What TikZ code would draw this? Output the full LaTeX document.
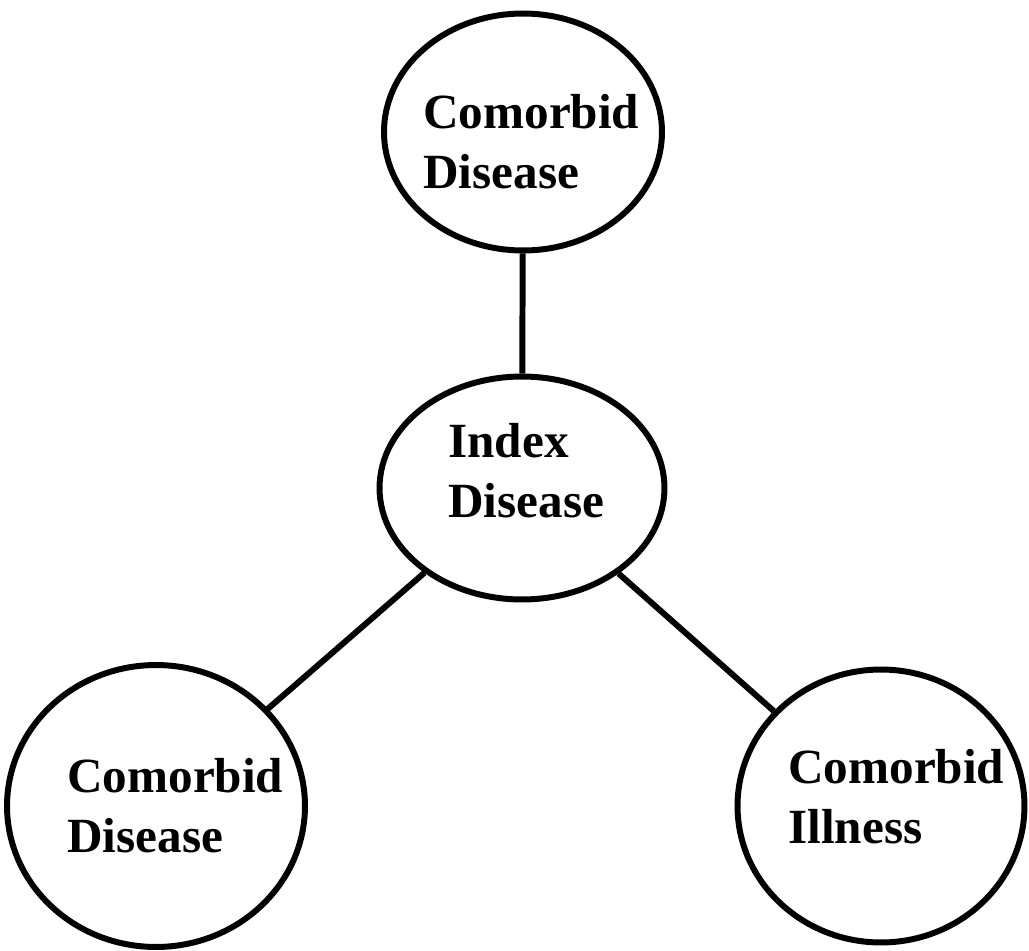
\documentclass[tikz,border=0pt]{standalone}
\usepackage{fontspec}
\setmainfont{Liberation Serif}
\usetikzlibrary{shapes.geometric}
\tikzset{
  bubble/.style={ellipse, draw=black, line width=3.4pt, inner sep=0pt},
  lab/.style={anchor=base west, inner sep=0pt, align=left,
    font=\fontsize{28}{34}\selectfont\bfseries},
  link/.style={draw=black, line width=3.4pt}
}
\begin{document}
\begin{tikzpicture}[x=0.02cm,y=-0.02cm]
\useasboundingbox (0,0) rectangle (1029,951);
\node[bubble, minimum width=5.56cm, minimum height=4.74cm] (top) at (523,132) {};
\node[bubble, minimum width=5.70cm, minimum height=4.46cm] (mid) at (522,488) {};
\node[bubble, minimum width=5.96cm, minimum height=5.64cm] (left) at (156,806) {};
\node[bubble, minimum width=5.74cm, minimum height=5.46cm] (right) at (881,806) {};
\draw[link] (top) -- (mid);
\draw[link] (mid) -- (left);
\draw[link] (mid) -- (right);
\node[lab] (toplab) at (423,188) {Comorbid\\Disease};
\node[lab] (midlab) at (448,517) {Index\\Disease};
\node[lab] (leftlab) at (67,852) {Comorbid\\Disease};
\node[lab] (rightlab) at (788,843) {Comorbid\\Illness};
\end{tikzpicture}
\end{document}
